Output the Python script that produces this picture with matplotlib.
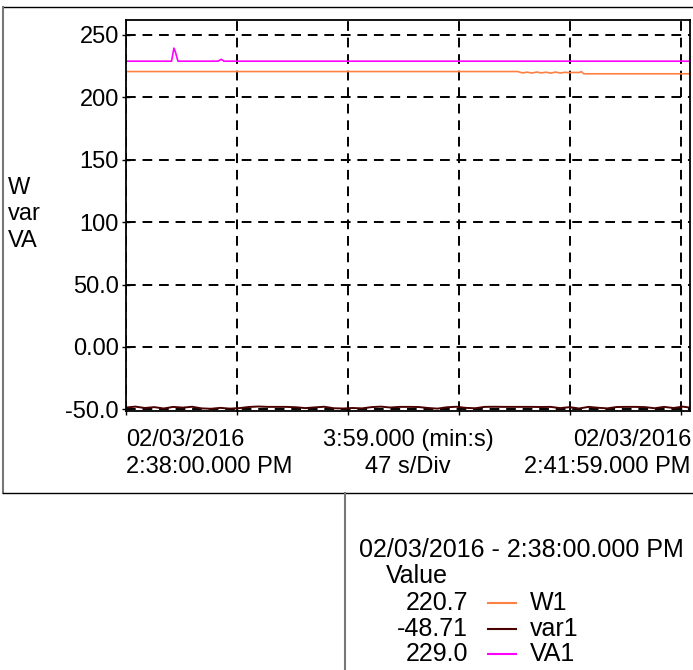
import numpy as np
import matplotlib
matplotlib.use("Agg")
import matplotlib.pyplot as plt
from matplotlib.lines import Line2D

plt.rcParams['font.family'] = ['Liberation Sans', 'DejaVu Sans']

# time in seconds from 2:38:00.000 PM
w1_t = [0, 166, 168, 170, 172, 174, 176, 178, 180, 182, 184, 186, 188, 190, 192, 193, 194, 239]
w1_v = [220.7, 220.7, 219.6, 220.2, 219.5, 220.3, 219.6, 220.2, 219.4, 220.3, 219.5,
        220.1, 219.8, 220.0, 219.9, 220.6, 218.9, 218.9]

va1_t = [0, 19.3, 20.3, 21.0, 22.0, 39.0, 40.4, 41.5, 239]
va1_v = [229.0, 229.0, 239.5, 236.0, 229.0, 229.0, 230.5, 229.0, 229.0]

var1_t = list(range(0, 240, 4)) + [239]
var1_v = [-48.5, -47.8, -48.9, -48.2, -49.3, -48.0, -48.6, -47.9, -49.2, -49.5,
          -48.8, -49.4, -49.0, -48.1, -47.7, -48.0, -48.0, -48.0, -48.3, -49.0,
          -48.4, -47.9, -49.1, -49.3, -48.9, -49.2, -48.2, -47.8, -48.5, -48.0,
          -48.0, -48.1, -48.9, -49.4, -48.3, -47.9, -48.8, -49.1, -48.0, -47.9,
          -48.0, -48.0, -48.0, -48.0, -48.1, -48.0, -49.0, -48.2, -49.3, -48.0,
          -48.7, -49.2, -48.1, -48.0, -48.0, -48.2, -49.1, -48.0, -48.9, -47.8,
          -48.6]

series = ["W1", "var1", "VA1"]
colors = ["#ff8040", "#4a0000", "#ff00ff"]
cursor_vals = ["220.7", "-48.71", "229.0"]

yticks = [-50, 0, 50, 100, 150, 200, 250]
ytick_labels = ["-50.0", "0.00", "50.0", "100", "150", "200", "250"]
xgrid = [0, 47, 94, 141, 188, 235]

W, H = 693, 670
fig = plt.figure(figsize=(W / 100, H / 100), dpi=100)
ax = fig.add_axes([126 / W, 1 - 411 / H, (690 - 126) / W, (411 - 19.5) / H])

ax.plot(w1_t, w1_v, color=colors[0], lw=1.2)
ax.plot(var1_t, var1_v, color=colors[1], lw=1.4)
ax.plot(va1_t, va1_v, color=colors[2], lw=1.2)

ax.set_xlim(0, 239)
ax.set_ylim(-51.3, 262.4)
ax.set_yticks(yticks)
ax.set_yticklabels(ytick_labels, fontsize=17)
ax.set_xticks(xgrid)
ax.set_xticklabels([])
ax.tick_params(axis='both', direction='inout', length=6, width=1)
ax.tick_params(axis='y', pad=2)
ax.grid(True, color='black', linestyle=(0, (5, 3.5)), linewidth=1.4)
for s in ax.spines.values():
    s.set_linewidth(1.3)

def fx(px):
    return px / W

def fy(py):
    return 1 - py / H

# axis text
fs = 17
fig.text(fx(126), fy(440), "02/03/2016", fontsize=fs, ha='left', va='center')
fig.text(fx(126), fy(467), "2:38:00.000 PM", fontsize=fs, ha='left', va='center')
fig.text(fx(408), fy(440), "3:59.000 (min:s)", fontsize=fs, ha='center', va='center')
fig.text(fx(408), fy(467), "47 s/Div", fontsize=fs, ha='center', va='center')
fig.text(fx(691), fy(440), "02/03/2016", fontsize=fs, ha='right', va='center')
fig.text(fx(691), fy(467), "2:41:59.000 PM", fontsize=fs, ha='right', va='center')

for txt, py in zip(["W", "var", "VA"], [188, 214, 241]):
    fig.text(fx(8), fy(py), txt, fontsize=fs, ha='left', va='center')

# cursor / legend panel
lfs = 18
fig.text(fx(359), fy(550), "02/03/2016 - 2:38:00.000 PM", fontsize=lfs, ha='left', va='center')
fig.text(fx(386), fy(576), "Value", fontsize=lfs, ha='left', va='center')
for i, (name, col, val) in enumerate(zip(series, colors, cursor_vals)):
    py = 603 + i * 25.5
    fig.text(fx(468), fy(py), val, fontsize=lfs, ha='right', va='center')
    fig.add_artist(Line2D([fx(488), fx(516)], [fy(py), fy(py)], color=col, lw=1.5))
    fig.text(fx(530), fy(py), name, fontsize=lfs, ha='left', va='center')

# frame lines
fig.add_artist(Line2D([fx(3), 1], [fy(7), fy(7)], color='black', lw=1))
fig.add_artist(Line2D([fx(3), fx(3)], [fy(7), fy(493)], color='#777777', lw=1.5))
fig.add_artist(Line2D([fx(3), 1], [fy(493), fy(493)], color='black', lw=1))
fig.add_artist(Line2D([fx(345), fx(345)], [fy(493), 0], color='#777777', lw=1.5))

fig.savefig("out.png", dpi=100)
